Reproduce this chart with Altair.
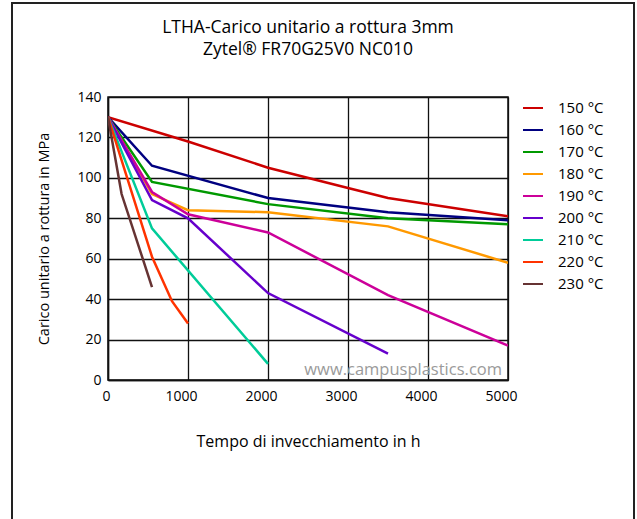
import altair as alt
import pandas as pd

series_names = ["150 °C", "160 °C", "170 °C", "180 °C", "190 °C", "200 °C", "210 °C", "220 °C", "230 °C"]
series_colors = ["#cc0000", "#000080", "#009900", "#ff9900", "#cc0099", "#6600cc", "#00cc99", "#ff3300", "#663333"]

title_lines = ["LTHA-Carico unitario a rottura 3mm", "Zytel® FR70G25V0 NC010"]

t150 = [0, 1000, 2000, 3000, 3500, 5000]
v150 = [130, 118, 105, 95, 90, 81]
t160 = [0, 550, 2000, 3500, 5000]
v160 = [130, 106, 90, 83, 79]
t170 = [0, 550, 2000, 3500, 5000]
v170 = [130, 98, 87, 80, 77]
t180 = [0, 550, 1000, 2000, 3500, 5000]
v180 = [130, 92, 84, 83, 76, 58]
t190 = [0, 550, 1000, 2000, 3500, 5000]
v190 = [130, 93, 82, 73, 42, 17]
t200 = [0, 550, 1000, 2000, 3500]
v200 = [130, 89, 80, 43, 13]
t210 = [0, 550, 2000]
v210 = [130, 75, 8]
t220 = [0, 550, 800, 1000]
v220 = [130, 61, 39, 28]
t230 = [0, 170, 550]
v230 = [130, 92, 46]

x_ticks = [0, 1000, 2000, 3000, 4000, 5000]
y_ticks = [0, 20, 40, 60, 80, 100, 120, 140]

all_t = [t150, t160, t170, t180, t190, t200, t210, t220, t230]
all_v = [v150, v160, v170, v180, v190, v200, v210, v220, v230]

rows = []
for name, ts, vs in zip(series_names, all_t, all_v):
    for i, (t, v) in enumerate(zip(ts, vs)):
        rows.append({"serie": name, "t": t, "v": v, "ord": i})
df = pd.DataFrame(rows)

lines = alt.Chart(df).mark_line(strokeWidth=2.5, clip=True).encode(
    x=alt.X("t:Q", scale=alt.Scale(domain=[0, 5000], nice=False),
            axis=alt.Axis(values=x_ticks, title="Tempo di invecchiamento in h",
                          ticks=False, labelPadding=9, titlePadding=30,
                          labelOffset={"condition": {"test": "datum.value == 0", "value": -2}, "value": -7},
                          grid=True, format="d", labelFlush=False, titleFontSize=16)),
    y=alt.Y("v:Q", scale=alt.Scale(domain=[0, 140], nice=False),
            axis=alt.Axis(values=y_ticks, title="Carico unitario a rottura in MPa",
                          ticks=False, labelPadding=7, titlePadding=25, grid=True,
                          titleFontSize=14.5)),
    color=alt.Color("serie:N", scale=alt.Scale(domain=series_names, range=series_colors),
                    legend=alt.Legend(title=None, symbolType="stroke", symbolSize=400,
                                      symbolStrokeWidth=2, labelFontSize=15, rowPadding=3,
                                      labelOffset=14, offset=14, padding=0)),
    order="ord:Q",
    detail="serie:N",
)

watermark = alt.Chart(pd.DataFrame({"w": ["www.campusplastics.com"]})).mark_text(
    align="right", baseline="middle", fontSize=16.5, color="#9a9a9a", font="Open Sans"
).encode(x=alt.value(394), y=alt.value(273), text="w:N")

title1 = alt.Chart(pd.DataFrame({"s": [title_lines[0]]})).mark_text(
    align="center", baseline="alphabetic", fontSize=17.5, color="black", font="Open Sans"
).encode(x=alt.value(200), y=alt.value(-64), text="s:N")

title2 = alt.Chart(pd.DataFrame({"s": [title_lines[1]]})).mark_text(
    align="center", baseline="alphabetic", fontSize=17.5, color="black", font="Open Sans"
).encode(x=alt.value(200), y=alt.value(-42), text="s:N")

border = alt.Chart(pd.DataFrame({"a": [0]})).mark_rect(
    fill=None, stroke="#222222", strokeWidth=2
).encode(x=alt.value(-96), x2=alt.value(526), y=alt.value(-94), y2=alt.value(440))

chart = alt.layer(lines, watermark, title1, title2, border).properties(
    width=400, height=283,
    padding={"left": 108, "top": 97, "right": 129, "bottom": 139},
    autosize=alt.AutoSizeParams(type="none"),
).configure(font="Open Sans").configure_axis(
    gridColor="#111111", gridWidth=1.3, gridOpacity=1,
    domainColor="#111111", domainWidth=1.5,
    labelFontSize=14, labelColor="black",
    titleFontWeight="normal", titleColor="black", labelFont="Open Sans", titleFont="Open Sans"
).configure_view(stroke="#111111", strokeWidth=1.5).configure_legend(
    labelColor="black", labelFont="Open Sans"
)

chart.save("out.html", embed_options={"renderer": "svg", "actions": False})
